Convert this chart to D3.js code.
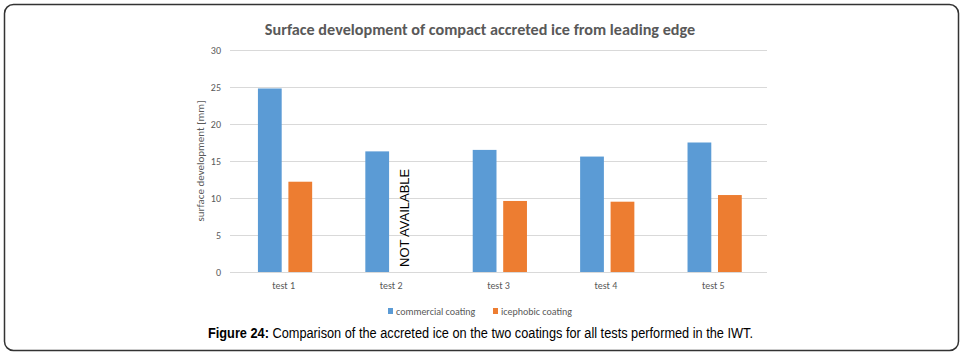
<!DOCTYPE html>
<html>
<head>
<meta charset="utf-8">
<script src="https://cdn.jsdelivr.net/npm/d3@7"></script>
<style>
  body { margin: 0; background: #fff; }
  svg { display: block; }
</style>
</head>
<body>
<svg id="chart" width="963" height="355"></svg>
<script>
// data
var tests = ["test 1", "test 2", "test 3", "test 4", "test 5"];
var series = ["commercial coating", "icephobic coating"];
var commercial = [24.8, 16.3, 16.5, 15.6, 17.5];
var icephobic = [12.2, null, 9.6, 9.5, 10.4];   // test 2 not available
var yTicks = [0, 5, 10, 15, 20, 25, 30];
var colors = ["#5B9BD5", "#ED7D31"];

var dims = {
  width: 963,
  height: 355,
  margin: { top: 50, bottom: 83, left: 230, right: 196 }
}

var chartFont = "Carlito, Calibri, Lato, 'Open Sans', sans-serif";
var grey = "#595959";

var svg = d3.select("#chart");

// rounded frame round the figure
svg.append("rect")
  .attr("x", 4.5).attr("y", 4.5)
  .attr("width", 954).attr("height", 346)
  .attr("rx", 9)
  .attr("fill", "none")
  .attr("stroke", "#333")
  .attr("stroke-width", 1.5);

var x = d3.scaleBand()
  .domain(tests)
  .range([dims.margin.left, dims.width - dims.margin.right])
  .padding(0);

var xSub = d3.scaleBand()
  .domain(series)
  .range([x.bandwidth() * 0.26, x.bandwidth() * 0.765])
  .paddingInner(0.22);

var y = d3.scaleLinear()
  .domain([0, 30])
  .range([dims.height - dims.margin.bottom, dims.margin.top]);

// gridlines + tick labels
var yAxis = svg.append("g")
  .attr("transform", "translate(" + dims.margin.left + ",0)")
  .call(d3.axisLeft(y).tickValues(yTicks)
    .tickSize(-(dims.width - dims.margin.right - dims.margin.left))
    .tickPadding(9));
yAxis.select(".domain").remove();
yAxis.selectAll("line").attr("stroke", "#D9D9D9").attr("stroke-width", 1);
yAxis.selectAll("text")
  .attr("fill", grey)
  .style("font-family", chartFont)
  .style("font-size", "10px");

// x axis labels only
var xAxis = svg.append("g")
  .attr("transform", "translate(0," + (dims.height - dims.margin.bottom) + ")")
  .call(d3.axisBottom(x).tickSize(0).tickPadding(10));
xAxis.select(".domain").remove();
xAxis.selectAll("text")
  .attr("fill", grey)
  .style("font-family", chartFont)
  .style("font-size", "10px");

var rows = tests.map(function(t, i) {
  return { test: t, values: [commercial[i], icephobic[i]] };
});

svg.append("g")
  .selectAll("g")
  .data(rows)
  .enter()
  .append("g")
    .attr("transform", function(d) { return "translate(" + x(d.test) + ",0)"; })
  .selectAll("rect")
  .data(function(d) {
    return series.map(function(s, j) { return { key: s, value: d.values[j], idx: j }; })
      .filter(function(v) { return v.value != null; });
  })
  .enter().append("rect")
    .attr("x", function(d) { return xSub(d.key); })
    .attr("y", function(d) { return y(d.value); })
    .attr("width", xSub.bandwidth())
    .attr("height", function(d) { return y(0) - y(d.value); })
    .attr("fill", function(d) { return colors[d.idx]; });

// missing value note
icephobic.forEach(function(v, i) {
  if (v != null) return;
  var nx = x(tests[i]) + xSub(series[1]) + xSub.bandwidth() / 2 + 1;
  svg.append("text")
    .text("NOT AVAILABLE")
    .attr("transform", "translate(" + nx + "," + (y(0) - 5) + ") rotate(-90)")
    .style("font-family", "'Liberation Sans', Arial, sans-serif")
    .style("font-size", "13px")
    .attr("fill", "#000");
});

// title
svg.append("text")
  .text("Surface development of compact accreted ice from leading edge")
  .attr("x", 480)
  .attr("y", 35)
  .attr("text-anchor", "middle")
  .style("font-family", chartFont)
  .style("font-size", "16.2px")
  .style("font-weight", "bold")
  .attr("fill", grey);

// y label
svg.append("text")
  .text("surface development [mm]")
  .attr("transform", "translate(204," + ((y(0) + y(30)) / 2) + ") rotate(-90)")
  .attr("text-anchor", "middle")
  .style("font-family", chartFont)
  .style("font-size", "11px")
  .attr("fill", grey);

// legend
var legendX = [388, 493];
var legend = svg.append("g");
series.forEach(function(s, i) {
  legend.append("rect")
    .attr("x", legendX[i]).attr("y", 308)
    .attr("width", 5).attr("height", 6)
    .attr("fill", colors[i]);
  legend.append("text")
    .text(s)
    .attr("x", legendX[i] + 8)
    .attr("y", 314.5)
    .style("font-family", chartFont)
    .style("font-size", "10px")
    .attr("fill", grey);
});

// figure caption (original uses a narrow face, so squeeze to its width)
var cap = svg.append("text")
  .attr("x", 208)
  .attr("y", 338)
  .attr("textLength", 545)
  .attr("lengthAdjust", "spacingAndGlyphs")
  .style("font-family", "'Liberation Sans', Arial, sans-serif")
  .style("font-size", "14px")
  .attr("fill", "#000");
cap.append("tspan").style("font-weight", "bold").text("Figure 24:");
cap.append("tspan").text(" Comparison of the accreted ice on the two coatings for all tests performed in the IWT.");
</script>
</body>
</html>
